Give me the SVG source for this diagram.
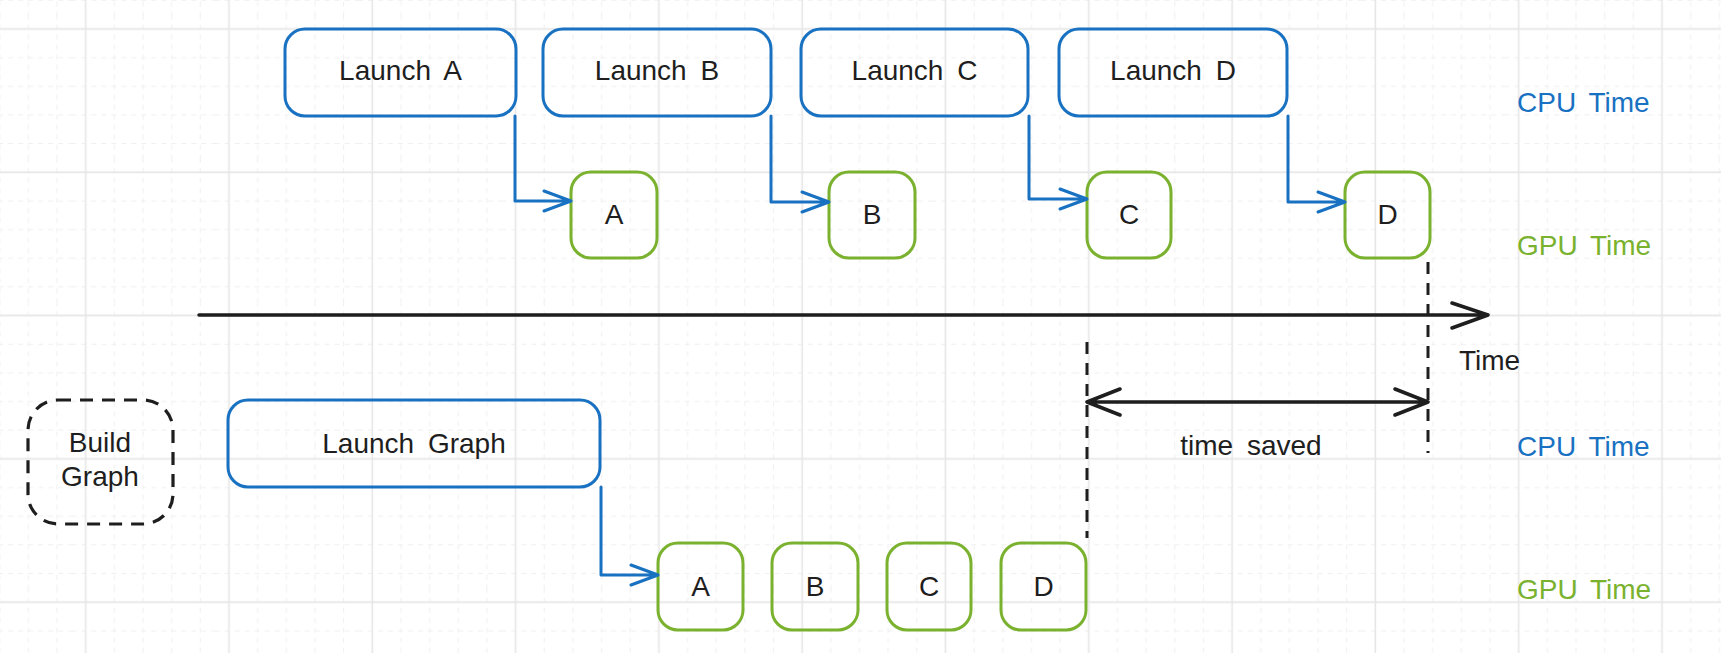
<svg xmlns="http://www.w3.org/2000/svg" width="1721" height="653" viewBox="0 0 1721 653">
  <defs>
    <!-- background grid: solid major line every 5 cells, dashed minor lines between -->
    <pattern id="grid" x="71.37" y="14.67" width="143.3" height="143.3" patternUnits="userSpaceOnUse">
      <g stroke="#efefef" stroke-width="1" stroke-dasharray="5 5">
        <line x1="42.99" y1="0" x2="42.99" y2="143.3"/>
        <line x1="71.65" y1="0" x2="71.65" y2="143.3"/>
        <line x1="100.31" y1="0" x2="100.31" y2="143.3"/>
        <line x1="128.97" y1="0" x2="128.97" y2="143.3"/>
        <line x1="0" y1="42.99" x2="143.3" y2="42.99"/>
        <line x1="0" y1="71.65" x2="143.3" y2="71.65"/>
        <line x1="0" y1="100.31" x2="143.3" y2="100.31"/>
        <line x1="0" y1="128.97" x2="143.3" y2="128.97"/>
      </g>
      <g stroke="#e6e6e6" stroke-width="1.6">
        <line x1="14.33" y1="0" x2="14.33" y2="143.3"/>
        <line x1="0" y1="14.33" x2="143.3" y2="14.33"/>
      </g>
    </pattern>
  </defs>
  <style>
    .cpu { fill: none; stroke: #1971c2; stroke-width: 3; }
    .gpu { fill: none; stroke: #7ab22f; stroke-width: 3; }
    .dash-box { fill: none; stroke: #1e1e1e; stroke-width: 3.2; stroke-dasharray: 13 9; }
    .lbl { font-family: "Liberation Sans", Arial, sans-serif; font-size: 28px; fill: #1e1e1e; text-anchor: middle; word-spacing: 6px; }
    .side { font-family: "Liberation Sans", Arial, sans-serif; font-size: 28px; word-spacing: 5px; }
    .blue { fill: #1971c2; }
    .green { fill: #7ab22f; }
    .wire { fill: none; stroke: #1971c2; stroke-width: 3; stroke-linecap: round; stroke-linejoin: round; }
    .axis { fill: none; stroke: #1e1e1e; stroke-width: 3.5; stroke-linecap: round; stroke-linejoin: round; }
    .guide { fill: none; stroke: #1e1e1e; stroke-width: 3; stroke-dasharray: 12 9; }
  </style>

  <rect width="1721" height="653" fill="#ffffff"/>
  <rect width="1721" height="653" fill="url(#grid)"/>

  <!-- per-kernel launches (CPU) -->
  <g id="launch-a"><rect class="cpu" x="285" y="29" width="231" height="87" rx="20"/><text class="lbl" x="400.5" y="80">Launch A</text></g>
  <g id="launch-b"><rect class="cpu" x="543" y="29" width="228" height="87" rx="20"/><text class="lbl" x="657" y="80">Launch B</text></g>
  <g id="launch-c"><rect class="cpu" x="801" y="29" width="227" height="87" rx="20"/><text class="lbl" x="914.5" y="80">Launch C</text></g>
  <g id="launch-d"><rect class="cpu" x="1059" y="29" width="228" height="87" rx="20"/><text class="lbl" x="1173" y="80">Launch D</text></g>

  <!-- kernels executing (GPU) -->
  <g id="gpu-a"><rect class="gpu" x="571" y="172" width="86" height="86" rx="20"/><text class="lbl" x="614" y="224">A</text></g>
  <g id="gpu-b"><rect class="gpu" x="829" y="172" width="86" height="86" rx="20"/><text class="lbl" x="872" y="224">B</text></g>
  <g id="gpu-c"><rect class="gpu" x="1087" y="172" width="84" height="86" rx="20"/><text class="lbl" x="1129" y="224">C</text></g>
  <g id="gpu-d"><rect class="gpu" x="1345" y="172" width="85" height="86" rx="20"/><text class="lbl" x="1387.5" y="224">D</text></g>

  <!-- graph launch path -->
  <g id="build-graph"><rect class="dash-box" x="28" y="400" width="145" height="124" rx="30"/><text class="lbl" x="100" y="452">Build</text><text class="lbl" x="100" y="486">Graph</text></g>
  <g id="launch-graph"><rect class="cpu" x="228" y="400" width="372" height="87" rx="20"/><text class="lbl" x="414" y="453">Launch Graph</text></g>

  <g id="graph-a"><rect class="gpu" x="658" y="543" width="85" height="87" rx="20"/><text class="lbl" x="700.5" y="596">A</text></g>
  <g id="graph-b"><rect class="gpu" x="772" y="543" width="86" height="87" rx="20"/><text class="lbl" x="815" y="596">B</text></g>
  <g id="graph-c"><rect class="gpu" x="887" y="543" width="84" height="87" rx="20"/><text class="lbl" x="929" y="596">C</text></g>
  <g id="graph-d"><rect class="gpu" x="1001" y="543" width="85" height="87" rx="20"/><text class="lbl" x="1043.5" y="596">D</text></g>

  <!-- connectors -->
  <g id="connectors">
    <path class="wire" d="M515 116 V201 H571 M544 191 L571 201 L544 211"/>
    <path class="wire" d="M771 116 V202 H829 M802 192 L829 202 L802 212"/>
    <path class="wire" d="M1029 116 V199 H1087 M1060 189 L1087 199 L1060 209"/>
    <path class="wire" d="M1288 116 V202 H1345 M1318 192 L1345 202 L1318 212"/>
    <path class="wire" d="M601 487 V575 H658 M631 565 L658 575 L631 585"/>

    <!-- time axis -->
    <path class="axis" d="M199 315 H1488 M1452 303 L1488 315 L1452 328"/>

    <!-- end-of-work markers and saved interval -->
    <line class="guide" x1="1428" y1="262" x2="1428" y2="453"/>
    <line class="guide" x1="1087" y1="342" x2="1087" y2="538"/>
    <path class="axis" d="M1087 402 H1428 M1120 389 L1087 402 L1120 415 M1395 389 L1428 402 L1395 415"/>
  </g>

  <!-- annotations -->
  <text class="side" x="1459" y="370" fill="#1e1e1e">Time</text>
  <text class="lbl" x="1251" y="455">time saved</text>
  <text class="side blue" x="1517" y="112">CPU Time</text>
  <text class="side green" x="1517" y="255">GPU Time</text>
  <text class="side blue" x="1517" y="456">CPU Time</text>
  <text class="side green" x="1517" y="599">GPU Time</text>
</svg>
